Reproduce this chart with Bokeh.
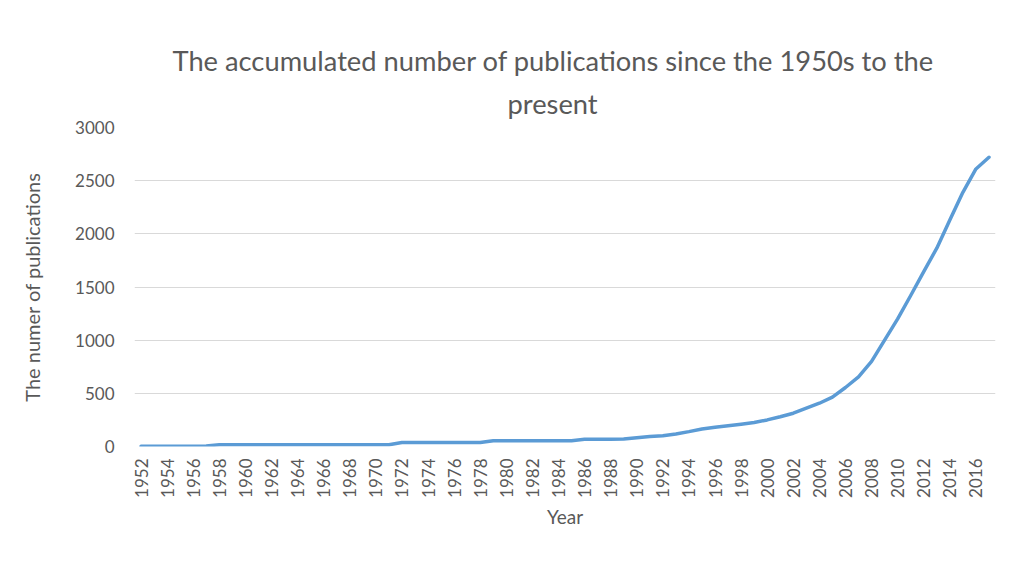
import math
from bokeh.plotting import figure
from bokeh.models import Title, FixedTicker, Range1d, ColumnDataSource
from bokeh.embed import file_html
from bokeh.resources import INLINE

years = list(range(1952, 2018))
publications = [
    3, 3, 3, 3, 3, 4,                      # 1952-1957
    17, 17, 17, 17, 17, 17, 17, 17, 17, 17, 17, 17, 17, 17,  # 1958-1971
    37, 37, 37, 37, 37, 37, 37,            # 1972-1978
    55, 55, 55, 55, 55, 55, 55,            # 1979-1985
    68, 68, 68, 70,                        # 1986-1989
    82, 95, 102, 118, 140, 165, 182, 196, 210, 225,   # 1990-1999
    250, 280, 313, 360, 407, 465, 555, 655, 800, 1000,  # 2000-2009
    1200, 1420, 1645, 1865, 2130, 2390, 2610, 2720,   # 2010-2017
]
tick_years = list(range(1952, 2018, 2))
y_ticks = [0, 500, 1000, 1500, 2000, 2500, 3000]

title_line1 = "The accumulated number of publications since the 1950s to the"
title_line2 = "present"
x_label = "Year"
y_label = "The numer of publications"

FONT = "Lato"
GRAY = "#595959"

src = ColumnDataSource(dict(year=years, pubs=publications))

p = figure(width=1012, height=564, output_backend="svg", toolbar_location=None,
           x_range=Range1d(1951.5, 2017.5), y_range=Range1d(0, 3000),
           min_border_left=134, min_border_right=17, min_border_top=127,
           min_border_bottom=118)
p.title = None
p.outline_line_color = None
p.background_fill_color = "white"
p.border_fill_color = "white"

p.line("year", "pubs", source=src, line_color="#5B9BD5", line_width=3.5,
       line_join="round", line_cap="round")

t2 = Title(text=title_line2, align="left", text_font=FONT, text_font_size="27.3px",
           text_font_style="normal", text_color=GRAY, offset=373, standoff=16)
t1 = Title(text=title_line1, align="left", text_font=FONT, text_font_size="27.3px",
           text_font_style="normal", text_color=GRAY, offset=38, standoff=0)
p.add_layout(t2, "above")
p.add_layout(t1, "above")

xa = p.xaxis[0]
xa.ticker = FixedTicker(ticks=tick_years)
xa.major_label_orientation = math.pi / 2
xa.major_label_text_font = FONT
xa.major_label_text_font_size = "17px"
xa.major_label_text_color = GRAY
xa.major_tick_line_color = None
xa.minor_tick_line_color = None
xa.axis_line_color = None
xa.axis_label = x_label
xa.axis_label_text_font = FONT
xa.axis_label_text_font_size = "19px"
xa.axis_label_text_font_style = "normal"
xa.axis_label_text_color = GRAY
xa.axis_label_standoff = 4
xa.major_label_standoff = 6

ya = p.yaxis[0]
ya.ticker = FixedTicker(ticks=y_ticks)
ya.major_label_text_font = FONT
ya.major_label_text_font_size = "17px"
ya.major_label_text_color = GRAY
ya.major_tick_line_color = None
ya.minor_tick_line_color = None
ya.axis_line_color = None
ya.axis_label = y_label
ya.axis_label_text_font = FONT
ya.axis_label_text_font_size = "20px"
ya.axis_label_text_font_style = "normal"
ya.axis_label_text_color = GRAY
ya.axis_label_standoff = 28
ya.major_label_standoff = 14

p.xgrid.grid_line_color = None
p.ygrid.grid_line_color = "#D9D9D9"
p.ygrid.grid_line_width = 1

open("out.html", "w").write(file_html(p, INLINE))
